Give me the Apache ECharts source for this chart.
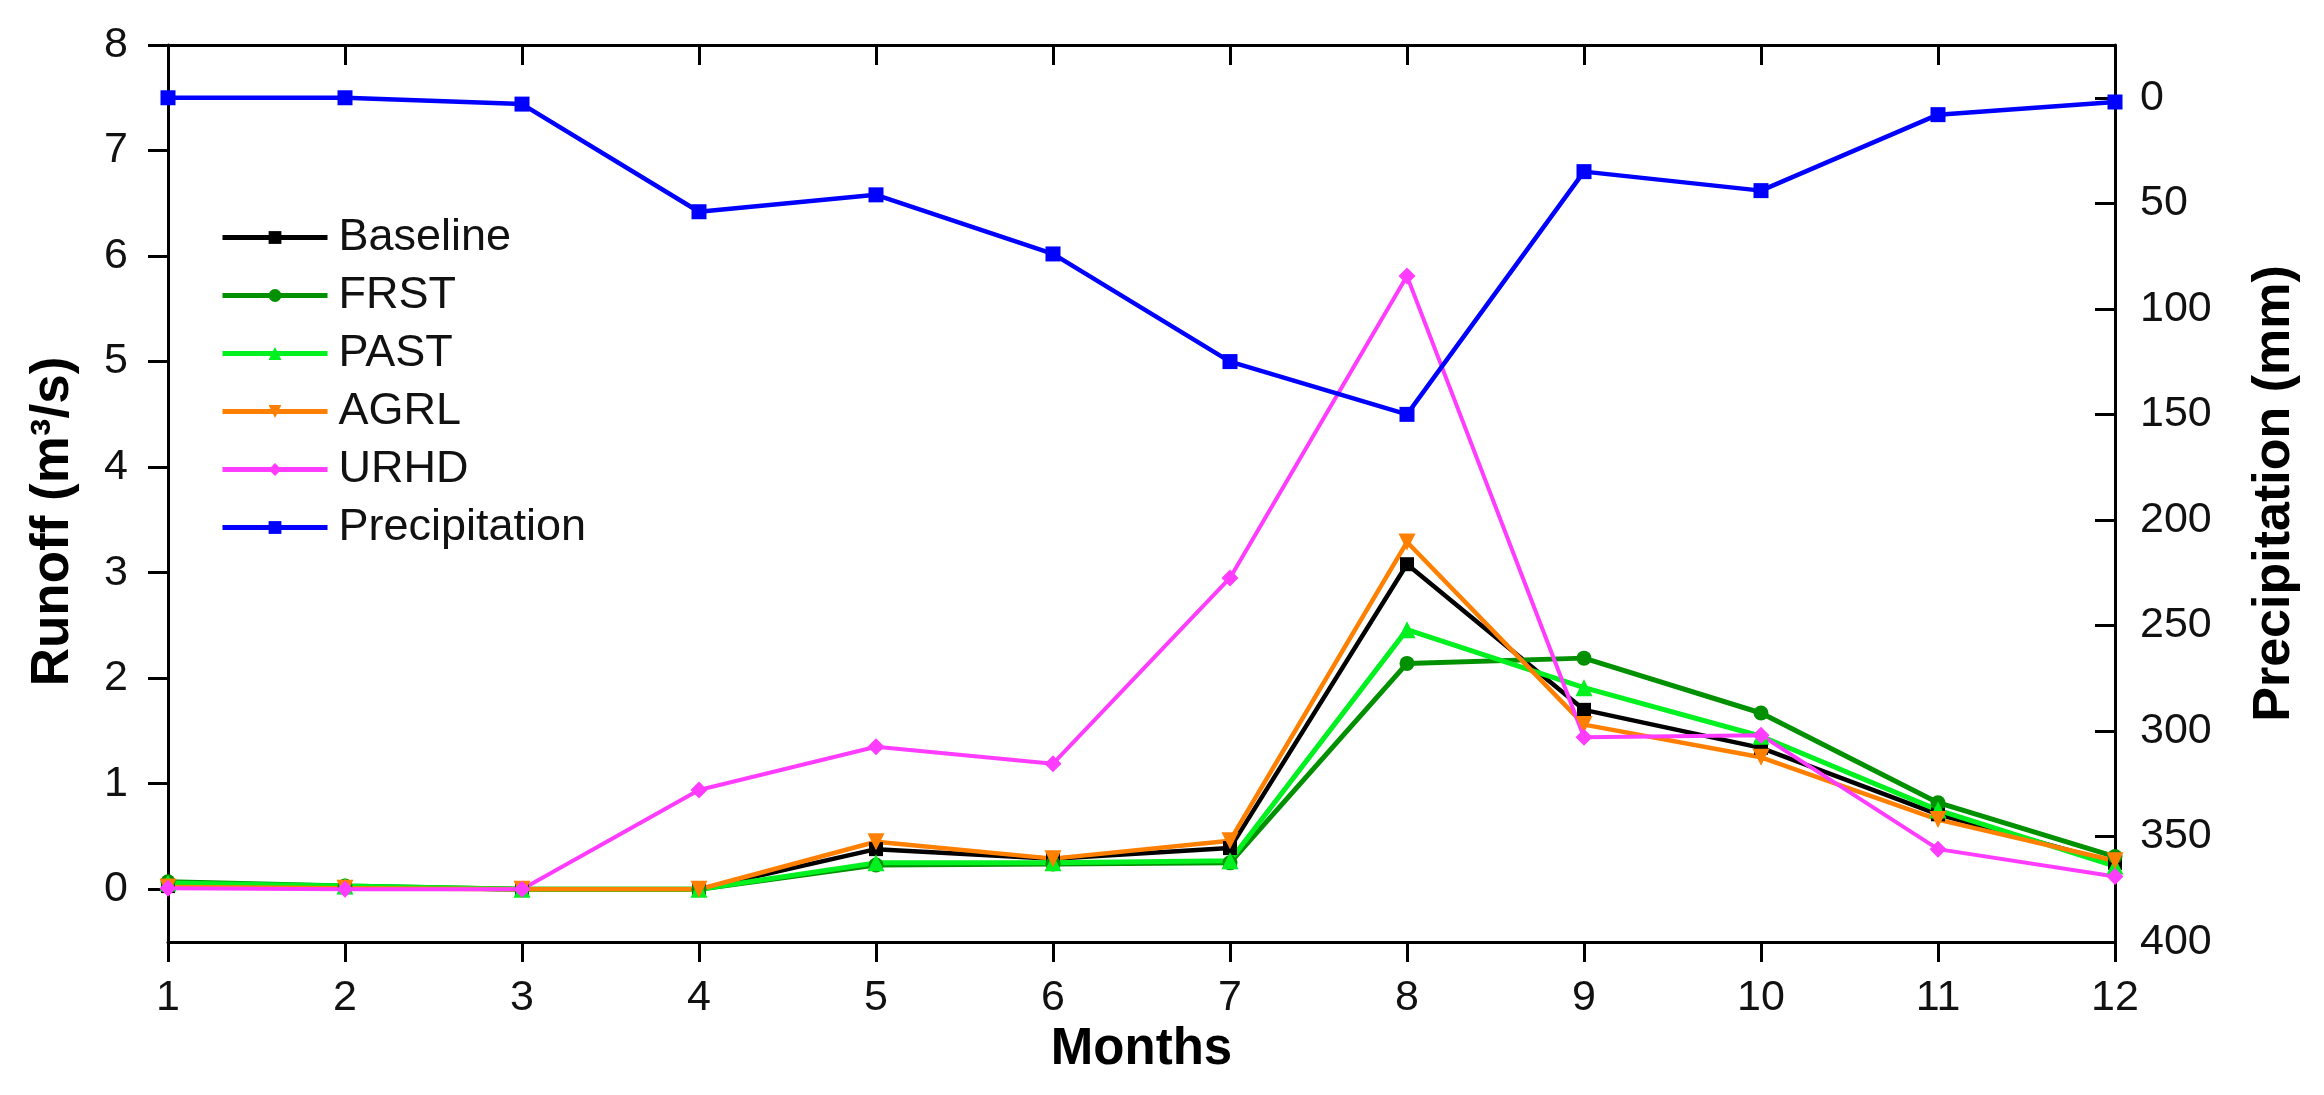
<!DOCTYPE html>
<html>
<head>
<meta charset="utf-8">
<script src="https://cdn.jsdelivr.net/npm/echarts@6/dist/echarts.min.js"></script>
<style>
  html, body { margin: 0; padding: 0; background: #fff; }
  #chart { width: 2324px; height: 1095px; }
</style>
</head>
<body>
<div id="chart"></div>
<script>
const months = [1, 2, 3, 4, 5, 6, 7, 8, 9, 10, 11, 12];

const baseline = [0.03, 0.02, 0, 0, 0.38, 0.29, 0.39, 3.08, 1.70, 1.34, 0.71, 0.25];
const frst = [0.07, 0.03, 0, 0, 0.23, 0.24, 0.25, 2.14, 2.19, 1.67, 0.82, 0.31];
const past = [0.06, 0.03, 0, 0, 0.25, 0.25, 0.27, 2.46, 1.91, 1.45, 0.75, 0.22];
const agrl = [0.02, 0.01, 0, 0, 0.45, 0.29, 0.46, 3.29, 1.56, 1.25, 0.66, 0.27];
const urhd = [0.01, 0, 0, 0.94, 1.35, 1.19, 2.95, 5.81, 1.44, 1.46, 0.38, 0.12];
const precipitation = [0, 0, 3, 54, 46, 74, 125, 150, 35, 44, 8, 2];

const runoffTicks = [0, 1, 2, 3, 4, 5, 6, 7, 8];
const precipTicks = [0, 50, 100, 150, 200, 250, 300, 350, 400];

const font = "Liberation Sans, Arial, sans-serif";

const chart = echarts.init(document.getElementById("chart"));

function lineSeries(name, values, color, symbol, size, width, yIndex) {
  return {
    name,
    type: "line",
    yAxisIndex: yIndex || 0,
    data: months.map((m, i) => [m, values[i]]),
    symbol,
    symbolSize: size,
    showSymbol: true,
    clip: false,
    lineStyle: { color, width },
    itemStyle: { color },
    emphasis: { disabled: true },
  };
}

const axisLine = { onZero: false, lineStyle: { color: "#000", width: 3 } };
const tickLine = { color: "#000", width: 3 };

chart.setOption({
  animation: false,
  textStyle: { fontFamily: font },
  grid: { left: 168, right: 209, top: 45, bottom: 153 },
  legend: {
    orient: "vertical",
    left: 215,
    top: 210,
    itemWidth: 105,
    itemHeight: 16,
    itemGap: 13,
    lineStyle: { width: 5 },
    textStyle: { fontSize: 45, color: "#111", fontFamily: font, padding: [0, 0, 0, 6] },
    data: ["Baseline", "FRST", "PAST", "AGRL", "URHD", "Precipitation"],
  },
  xAxis: [
    {
      type: "value",
      min: 1,
      max: 12,
      interval: 1,
      name: "Months",
      nameLocation: "middle",
      nameGap: 75,
      nameTextStyle: { fontSize: 51, fontWeight: "bold", color: "#000", fontFamily: font },
      axisLine: { show: true, ...axisLine },
      axisTick: { inside: false, length: 20, lineStyle: tickLine },
      axisLabel: { fontSize: 43, color: "#111", margin: 35 },
      splitLine: { show: false },
    },
    {
      type: "value",
      position: "top",
      min: 1,
      max: 12,
      interval: 1,
      axisLine: { show: true, ...axisLine },
      axisTick: { inside: true, length: 20, lineStyle: tickLine },
      axisLabel: { show: false },
      splitLine: { show: false },
    },
  ],
  yAxis: [
    {
      type: "value",
      min: -0.5,
      max: 8,
      name: "Runoff (m³/s)",
      nameLocation: "middle",
      nameGap: 88,
      nameTextStyle: { fontSize: 53, fontWeight: "bold", color: "#000", fontFamily: font, padding: [0, 56, 0, 0] },
      axisLine: { show: true, ...axisLine },
      axisTick: { show: true, inside: false, length: 20, customValues: runoffTicks, lineStyle: tickLine },
      axisLabel: { fontSize: 43, color: "#111", margin: 40, customValues: runoffTicks },
      splitLine: { show: false },
    },
    {
      type: "value",
      min: -25,
      max: 400,
      inverse: true,
      position: "right",
      name: "Precipitation (mm)",
      nameLocation: "middle",
      nameRotate: 90,
      nameGap: 134,
      nameTextStyle: { fontSize: 52, fontWeight: "bold", color: "#000", fontFamily: font },
      axisLine: { show: true, ...axisLine },
      axisTick: { show: true, inside: true, length: 20, customValues: precipTicks, lineStyle: tickLine },
      axisLabel: { fontSize: 43, color: "#111", margin: 25, customValues: precipTicks },
      splitLine: { show: false },
    },
  ],
  series: [
    lineSeries("Baseline", baseline, "#000000", "rect", 14, 4.5),
    lineSeries("FRST", frst, "#009000", "circle", 15, 5),
    lineSeries("PAST", past, "#00f020", "triangle", 17, 5),
    lineSeries("AGRL", agrl, "#ff8000", "path://M0,0 L10,0 L5,10 Z", 17, 4.5),
    lineSeries("URHD", urhd, "#ff3cff", "diamond", 17, 4),
    lineSeries("Precipitation", precipitation, "#0000ff", "rect", 15, 4.5, 1),
  ],
});
</script>
</body>
</html>
